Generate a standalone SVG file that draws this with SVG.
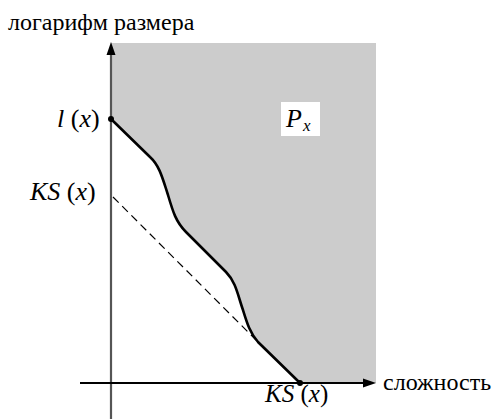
<svg xmlns="http://www.w3.org/2000/svg" width="502" height="419" viewBox="0 0 502 419">
<rect width="502" height="419" fill="#fff"/>
<text x="8" y="30" font-size="24" font-family="Times New Roman">логарифм размера</text>
<g id="region">
<path d="M111,43 L376,43 L376,383 L300,383 L258,342 C250,333 247,323 243,310 C238,296 236,282 226,272 L186,232 C176,222 173,212 168,195 C163,180 160,166 150,157 L111,119 Z" fill="#cccccc"/>
<rect x="281" y="102" width="39" height="34" fill="#fff"/>
</g>
<g id="connectors">
<line x1="111" y1="55" x2="111" y2="419" stroke="#555" stroke-width="2.2"/>
<polygon points="111,42 106.5,55 115.5,55" fill="#000"/>
<line x1="80" y1="383" x2="365" y2="383" stroke="#000" stroke-width="1.8"/>
<polygon points="376,383 363,378.5 363,387.5" fill="#000"/>
<line x1="113" y1="197" x2="256" y2="340" stroke="#000" stroke-width="1.2" stroke-dasharray="8,5"/>
<path d="M111,119 L150,157 C160,166 163,180 168,195 C173,212 176,222 186,232 L226,272 C236,282 238,296 243,310 C247,323 250,333 258,342 L300,383" fill="none" stroke="#000" stroke-width="2.6"/>
<circle cx="111" cy="119" r="3" fill="#000"/>
<circle cx="300" cy="383" r="3" fill="#000"/>
</g>
<text x="383" y="390" font-size="24" font-family="serif">сложность</text>
<text x="57" y="127" font-size="26" font-family="Liberation Serif" font-style="italic">l<tspan font-style="normal"> (</tspan>x<tspan font-style="normal">)</tspan></text>
<text x="30" y="200" font-size="26" font-family="Liberation Serif" font-style="italic">KS<tspan font-style="normal"> (</tspan>x<tspan font-style="normal">)</tspan></text>
<text x="265" y="402" font-size="25" font-family="Liberation Serif" font-style="italic">KS<tspan font-style="normal"> (</tspan>x<tspan font-style="normal">)</tspan></text>
<text x="286" y="127" font-size="26" font-family="Liberation Serif" font-style="italic">P</text>
<text x="303" y="131" font-size="17" font-family="Liberation Serif" font-style="italic">x</text>
</svg>
